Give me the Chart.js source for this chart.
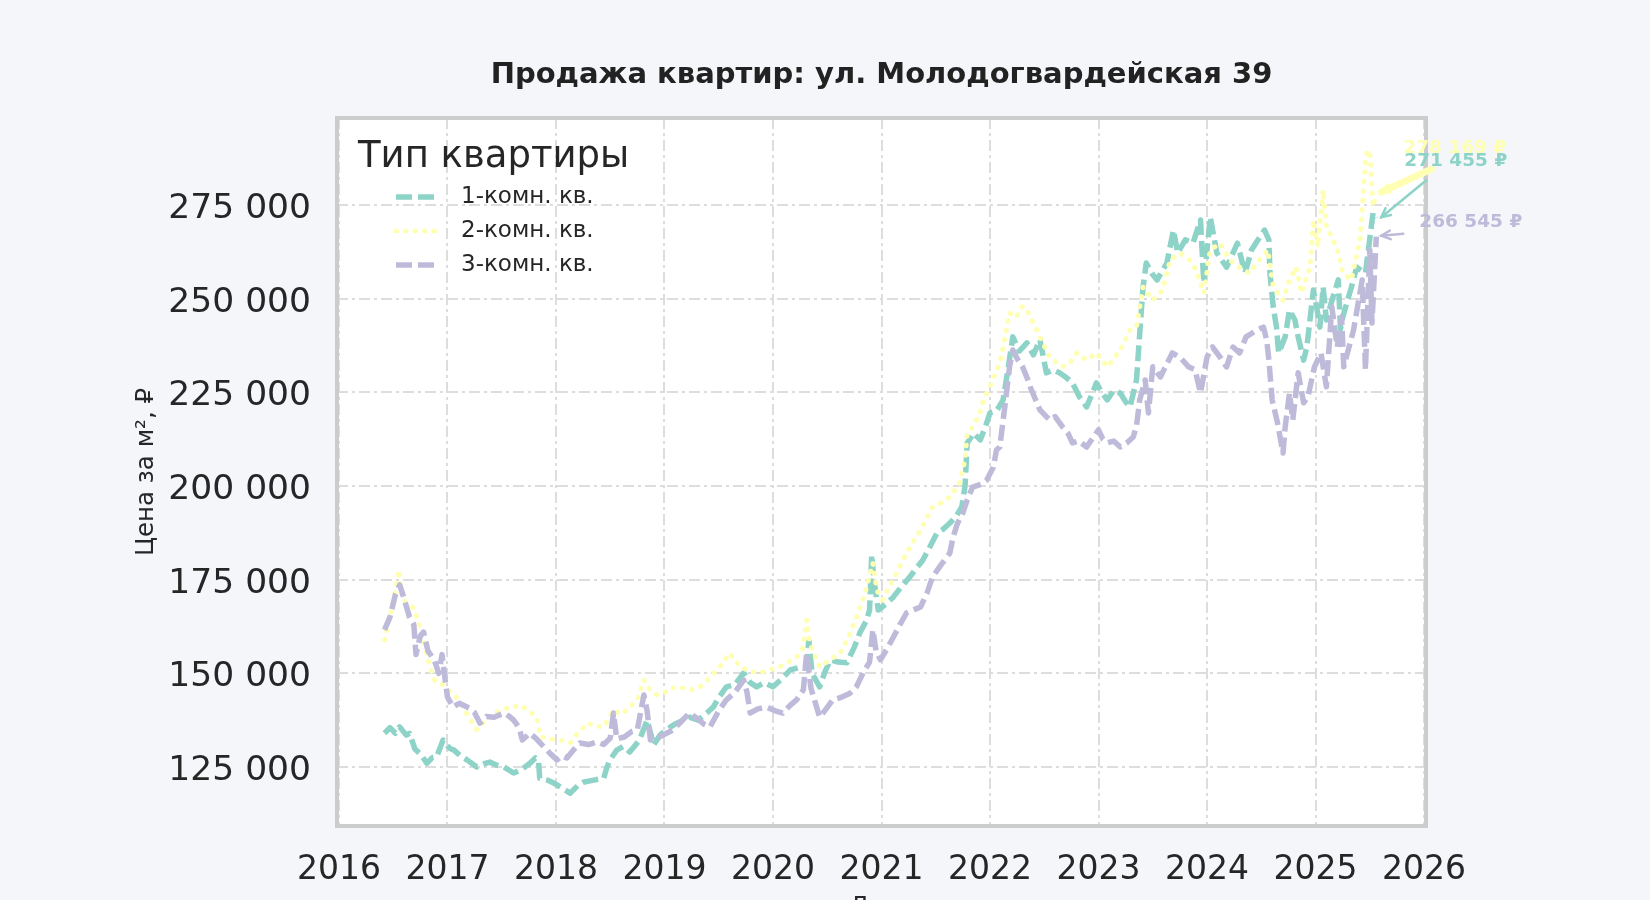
<!DOCTYPE html>
<html lang="ru">
<head>
<meta charset="utf-8">
<title>Продажа квартир: ул. Молодогвардейская 39</title>
<script src="https://cdn.jsdelivr.net/npm/chart.js@4.4.1/dist/chart.umd.min.js"></script>
<style>
  html, body { margin: 0; padding: 0; background: #f5f6fa; overflow: hidden; }
  #wrap { width: 1650px; height: 900px; overflow: hidden; }
</style>
</head>
<body>
<div id="wrap"><canvas id="chart" width="1650" height="930"></canvas></div>
<script>
// data (x = decimal year, y = rubles per m2)
var seriesNames = ['1-комн. кв.', '2-комн. кв.', '3-комн. кв.'];
var xTicks = [2016, 2017, 2018, 2019, 2020, 2021, 2022, 2023, 2024, 2025, 2026];
var yTicks = [125000, 150000, 175000, 200000, 225000, 250000, 275000];

var oneRoomX = [2016.42, 2016.47, 2016.52, 2016.56, 2016.62, 2016.65, 2016.70, 2016.75, 2016.81, 2016.86, 2016.90, 2016.96,
  2017.02, 2017.06, 2017.12, 2017.18, 2017.27, 2017.33, 2017.39, 2017.45, 2017.52, 2017.61, 2017.66, 2017.70, 2017.76, 2017.81, 2017.84, 2017.85, 2017.92, 2017.98,
  2018.05, 2018.13, 2018.20, 2018.26, 2018.35, 2018.44, 2018.47, 2018.50, 2018.56, 2018.62, 2018.68, 2018.77, 2018.84, 2018.90, 2018.96,
  2019.02, 2019.10, 2019.23, 2019.31, 2019.39, 2019.45, 2019.50, 2019.57, 2019.65, 2019.73, 2019.79, 2019.85, 2019.92,
  2020.00, 2020.08, 2020.16, 2020.23, 2020.31, 2020.33, 2020.36, 2020.43, 2020.48, 2020.53, 2020.60, 2020.68, 2020.75, 2020.80, 2020.86, 2020.89, 2020.91, 2020.93, 2020.97,
  2021.04, 2021.11, 2021.18, 2021.26, 2021.32, 2021.38, 2021.45, 2021.51, 2021.57, 2021.63, 2021.69, 2021.74, 2021.77, 2021.79, 2021.85, 2021.91, 2021.96,
  2022.00, 2022.06, 2022.12, 2022.17, 2022.21, 2022.27, 2022.34, 2022.40, 2022.46, 2022.52, 2022.58, 2022.64, 2022.70, 2022.76, 2022.82, 2022.89, 2022.94, 2022.98,
  2023.03, 2023.08, 2023.14, 2023.20, 2023.25, 2023.29, 2023.35, 2023.38, 2023.41, 2023.44, 2023.49, 2023.54, 2023.59, 2023.63, 2023.69, 2023.73, 2023.80, 2023.87, 2023.94, 2023.97,
  2024.03, 2024.09, 2024.18, 2024.28, 2024.35, 2024.41, 2024.47, 2024.53, 2024.57, 2024.58, 2024.61, 2024.64, 2024.66, 2024.72, 2024.76, 2024.81, 2024.84, 2024.89, 2024.92, 2024.98,
  2025.01, 2025.04, 2025.07, 2025.10, 2025.16, 2025.21, 2025.23, 2025.25, 2025.33, 2025.38, 2025.46, 2025.53, 2025.56];
var oneRoomY = [134000, 135500, 134000, 135700, 133500, 134000, 129800, 128500, 126000, 127500, 127700, 132200,
  130000, 129500, 128000, 126900, 125000, 125800, 126300, 125500, 125000, 123400, 124000, 124700, 126000, 127400, 126500, 122000, 121500, 120700,
  119500, 118000, 120000, 121000, 121500, 122000, 125000, 127000, 129500, 130500, 129000, 132200, 137500, 130900, 133500,
  135000, 136500, 138300, 137500, 139400, 141000, 143500, 146400, 147000, 150100, 147500, 146400, 147500,
  146400, 148500, 150900, 151500, 151700, 158900, 150000, 146400, 150500, 153600, 153000, 152800, 157000, 160800, 164000, 166900, 181600, 175000, 166900,
  168500, 170400, 173000, 175700, 178000, 180200, 184000, 187400, 188500, 190100, 192000, 194400, 200000, 211500, 214100, 212300, 216000,
  219500, 220000, 222900, 232000, 239800, 236000, 238200, 235000, 239000, 230200, 231000, 230200, 229000, 227500, 224000, 221100, 224500, 227500,
  225000, 223000, 225500, 224800, 222500, 221100, 228300, 240800, 253100, 259500, 256800, 255000, 257600, 259500, 268300, 262200, 265700, 264800, 271000, 254200,
  271800, 262200, 258400, 264800, 256800, 263000, 265700, 268300, 265700, 256800, 247800, 242400, 235500, 239800, 247000, 244300, 239800, 233600, 237100, 252300,
  247800, 242400, 253100, 244300, 250400, 255000, 242000, 245000, 253000, 258400, 256800, 272900, 271455];

var twoRoomX = [2016.42, 2016.47, 2016.52, 2016.55, 2016.58, 2016.64, 2016.69, 2016.74, 2016.78, 2016.83, 2016.88, 2016.94, 2016.97,
  2017.03, 2017.09, 2017.18, 2017.27, 2017.35, 2017.43, 2017.52, 2017.60, 2017.67, 2017.75, 2017.82, 2017.86, 2017.94,
  2018.01, 2018.07, 2018.13, 2018.20, 2018.29, 2018.36, 2018.44, 2018.53, 2018.60, 2018.68, 2018.75, 2018.81, 2018.87, 2018.93, 2018.99,
  2019.06, 2019.14, 2019.23, 2019.33, 2019.42, 2019.51, 2019.60, 2019.65, 2019.70, 2019.79, 2019.88, 2019.97,
  2020.06, 2020.14, 2020.22, 2020.28, 2020.31, 2020.34, 2020.43, 2020.52, 2020.62, 2020.70, 2020.77, 2020.85, 2020.92, 2020.96,
  2021.01, 2021.07, 2021.14, 2021.23, 2021.30, 2021.36, 2021.42, 2021.47, 2021.55, 2021.63, 2021.72, 2021.77, 2021.79, 2021.84, 2021.90, 2021.94,
  2022.00, 2022.09, 2022.14, 2022.18, 2022.24, 2022.30, 2022.34, 2022.43, 2022.49, 2022.55, 2022.61, 2022.67, 2022.74, 2022.80, 2022.89, 2022.98,
  2023.08, 2023.14, 2023.20, 2023.29, 2023.35, 2023.41, 2023.50, 2023.59, 2023.66, 2023.75, 2023.84, 2023.90, 2023.97,
  2024.03, 2024.12, 2024.21, 2024.30, 2024.39, 2024.48, 2024.56, 2024.61, 2024.70, 2024.76, 2024.82, 2024.87, 2024.95, 2024.98,
  2025.02, 2025.07, 2025.10, 2025.15, 2025.21, 2025.25, 2025.33, 2025.41, 2025.46, 2025.48, 2025.50, 2025.53, 2025.56];
var twoRoomY = [158900, 165000, 172000, 177600, 170000, 168500, 167400, 163000, 158900, 152500, 148200, 147500, 146400,
  145000, 143400, 139000, 134900, 137500, 139400, 140500, 141000, 141500, 140000, 138300, 133000, 132500,
  132200, 132000, 131400, 134000, 136700, 136000, 135700, 140200, 139000, 141000, 143000, 148200, 145500, 144200, 144700,
  146000, 146400, 145500, 146400, 149000, 151700, 155400, 153500, 151700, 150500, 150100, 151000,
  151700, 153000, 154400, 157000, 164200, 158000, 151700, 153500, 155400, 160000, 165000, 171500, 179400, 172000,
  169600, 173000, 176800, 182100, 185500, 188200, 191500, 194400, 195500, 197100, 200800, 207000, 214100, 215700, 219000, 223000,
  226500, 232800, 240000, 246200, 245000, 248000, 247000, 241600, 238000, 234400, 233000, 231800, 233000, 235500, 233600, 235500,
  231800, 234000, 236300, 241600, 242400, 253100, 249600, 252300, 260300, 262200, 260300, 257600, 251500,
  263000, 264800, 260300, 258400, 256800, 260300, 263000, 253100, 249600, 255000, 258400, 251500, 258400, 271000,
  263800, 279000, 269100, 266500, 262200, 256800, 255000, 265700, 287000, 289700, 288900, 274500, 278169];

var threeRoomX = [2016.42, 2016.47, 2016.52, 2016.56, 2016.60, 2016.65, 2016.69, 2016.71, 2016.75, 2016.78, 2016.82, 2016.88, 2016.92, 2016.95, 2016.98,
  2017.00, 2017.05, 2017.11, 2017.20, 2017.25, 2017.30, 2017.36, 2017.43, 2017.52, 2017.57, 2017.61, 2017.66, 2017.69, 2017.76, 2017.82, 2017.89, 2017.95,
  2018.01, 2018.06, 2018.10, 2018.16, 2018.22, 2018.30, 2018.38, 2018.44, 2018.50, 2018.53, 2018.56, 2018.63, 2018.70, 2018.75, 2018.81, 2018.84, 2018.87, 2018.95,
  2019.02, 2019.08, 2019.15, 2019.23, 2019.30, 2019.36, 2019.42, 2019.50, 2019.57, 2019.65, 2019.73, 2019.76, 2019.79, 2019.86, 2019.94,
  2020.02, 2020.09, 2020.16, 2020.22, 2020.28, 2020.31, 2020.35, 2020.43, 2020.49, 2020.55, 2020.62, 2020.71, 2020.77, 2020.83, 2020.89, 2020.92, 2020.95, 2020.99,
  2021.05, 2021.11, 2021.17, 2021.23, 2021.30, 2021.36, 2021.42, 2021.47, 2021.55, 2021.63, 2021.66, 2021.70, 2021.75, 2021.79, 2021.84, 2021.92, 2021.97,
  2022.03, 2022.06, 2022.09, 2022.14, 2022.18, 2022.21, 2022.25, 2022.30, 2022.34, 2022.37, 2022.42, 2022.46, 2022.55, 2022.60, 2022.67, 2022.72, 2022.76, 2022.82, 2022.89, 2022.94,
  2023.00, 2023.04, 2023.08, 2023.14, 2023.20, 2023.26, 2023.32, 2023.35, 2023.38, 2023.43, 2023.46, 2023.50, 2023.57, 2023.68, 2023.75, 2023.83, 2023.89, 2023.94,
  2024.00, 2024.05, 2024.12, 2024.18, 2024.24, 2024.30, 2024.36, 2024.46, 2024.52, 2024.55, 2024.57, 2024.60, 2024.65, 2024.70, 2024.72, 2024.76, 2024.79, 2024.84, 2024.89, 2024.93, 2024.99,
  2025.05, 2025.10, 2025.15, 2025.20, 2025.24, 2025.26, 2025.35, 2025.43, 2025.46, 2025.50, 2025.52, 2025.56];
var threeRoomY = [161600, 165000, 171000, 173600, 170000, 165000, 163000, 155000, 160000, 161000, 156000, 153500, 150000, 155000, 148000,
  143700, 141000, 142000, 140700, 139500, 136700, 138500, 138300, 139400, 138500, 137500, 135500, 132200, 134000, 132500, 130300, 128500,
  126900, 128000, 127400, 129500, 131400, 131000, 131700, 131000, 132700, 139400, 132500, 133000, 134500, 134900, 144200, 140000, 132200, 133000,
  134000, 134900, 137000, 139400, 138000, 136500, 135700, 140000, 142900, 145000, 148200, 145000, 139400, 140500, 141000,
  140000, 139400, 141500, 143000, 145600, 155400, 146000, 138300, 140500, 142900, 143500, 144700, 146500, 150100, 153000, 161600, 156000, 153600,
  156500, 159700, 163000, 166100, 167000, 167700, 171500, 175700, 179000, 182100, 186400, 190000, 192800, 196300, 199700, 200500, 201600,
  205000, 209600, 210400, 222000, 231800, 236300, 234000, 231800, 229000, 226500, 223000, 220300, 217600, 218500, 215700, 214000, 211500, 212000, 210400, 212500,
  215000, 212500, 211500, 212000, 210400, 211500, 213100, 216000, 223000, 228300, 219500, 231800, 229100, 235500, 234400, 231800, 231000, 224800,
  234400, 237100, 234400, 231800, 237100, 235500, 239800, 241600, 242400, 239000, 233600, 223000, 216800, 208800, 215700, 224800, 217600, 230200, 222200, 223800, 231800,
  235500, 226500, 247800, 237100, 245100, 231800, 241600, 255000, 231000, 263000, 243500, 266545];

var seriesX = [oneRoomX, twoRoomX, threeRoomX];
var seriesY = [oneRoomY, twoRoomY, threeRoomY];

// styles
var seriesColors = ['#8dd3c7', '#ffffb3', '#bebada'];
var seriesWidth = [5.5, 5, 5.5];
var seriesDash = [[16, 6], [0.5, 9], [16, 6]];
var seriesCap = ['butt', 'round', 'butt'];
var seriesOrder = [3, 2, 1];
// label offsets from last point: text (tx, ty), arrow tail (ax, ay)
var labelOffsets = [
  {tx: 28, ty: -57, ax: 50, ay: -38, lw: 2.5},
  {tx: 27, ty: -45, ax: 55, ay: -24, lw: 7},
  {tx: 43, ty: -14, ax: 27, ay: -3, lw: 2.5}
];
var textColor = '#262626';
var fontFamily = '"DejaVu Sans", "Noto Sans", sans-serif';

var fmt = function(v) {
  return String(Math.round(v)).replace(/\B(?=(\d{3})+(?!\d))/g, ' ');
};

var plotFrame = {
  id: 'plotFrame',
  beforeDraw: function(chart) {
    var a = chart.chartArea, ctx = chart.ctx;
    ctx.save();
    ctx.fillStyle = '#ffffff';
    ctx.fillRect(a.left, a.top, a.right - a.left, a.bottom - a.top);
    ctx.restore();
  },
  afterDraw: function(chart) {
    var a = chart.chartArea, ctx = chart.ctx;
    ctx.save();
    ctx.strokeStyle = '#cccccc';
    ctx.lineWidth = 4;
    ctx.strokeRect(a.left, a.top, a.right - a.left, a.bottom - a.top);
    ctx.restore();
  }
};

var legendInside = {
  id: 'legendInside',
  afterDraw: function(chart) {
    var a = chart.chartArea, ctx = chart.ctx;
    ctx.save();
    ctx.textBaseline = 'middle';
    ctx.fillStyle = textColor;
    ctx.font = '37px ' + fontFamily;
    ctx.fillText('Тип квартиры', a.left + 21, a.top + 39);
    ctx.font = '23px ' + fontFamily;
    chart.data.datasets.forEach(function(ds, i) {
      var y = a.top + 79 + i * 34;
      ctx.strokeStyle = ds.borderColor;
      ctx.lineWidth = ds.borderWidth;
      ctx.lineCap = ds.borderCapStyle;
      ctx.setLineDash(ds.borderDash);
      ctx.beginPath();
      ctx.moveTo(a.left + 59, y);
      ctx.lineTo(a.left + 98, y);
      ctx.stroke();
      ctx.fillStyle = textColor;
      ctx.fillText(ds.label, a.left + 124, y);
    });
    ctx.restore();
  }
};

var lastLabels = {
  id: 'lastLabels',
  afterDraw: function(chart) {
    var ctx = chart.ctx;
    ctx.save();
    ctx.font = 'bold 18.5px ' + fontFamily;
    ctx.textBaseline = 'middle';
    [0, 2, 1].forEach(function(i) {
      var meta = chart.getDatasetMeta(i);
      var pt = meta.data[meta.data.length - 1];
      var vals = seriesY[i];
      var o = labelOffsets[i];
      var hx = pt.x + 5, hy = pt.y - 1;
      var tx = pt.x + o.ax, ty = pt.y + o.ay;
      var ang = Math.atan2(hy - ty, hx - tx);
      ctx.strokeStyle = seriesColors[i];
      ctx.lineCap = 'round';
      ctx.setLineDash([]);
      ctx.lineWidth = o.lw;
      ctx.beginPath();
      ctx.moveTo(tx, ty);
      ctx.lineTo(hx, hy);
      ctx.stroke();
      ctx.lineWidth = 2.5;
      ctx.beginPath();
      ctx.moveTo(hx - 10 * Math.cos(ang - 0.45), hy - 10 * Math.sin(ang - 0.45));
      ctx.lineTo(hx, hy);
      ctx.lineTo(hx - 10 * Math.cos(ang + 0.45), hy - 10 * Math.sin(ang + 0.45));
      ctx.stroke();
      ctx.fillStyle = seriesColors[i];
      ctx.fillText(fmt(vals[vals.length - 1]) + ' ₽', pt.x + o.tx, pt.y + o.ty);
    });
    ctx.restore();
  }
};

var datasets = seriesNames.map(function(name, i) {
  return {
    label: name,
    data: seriesX[i].map(function(x, j) { return {x: x, y: seriesY[i][j]}; }),
    borderColor: seriesColors[i],
    backgroundColor: seriesColors[i],
    borderWidth: seriesWidth[i],
    borderDash: seriesDash[i],
    borderCapStyle: seriesCap[i],
    borderJoinStyle: 'round',
    pointRadius: 0,
    tension: 0,
    fill: false,
    order: seriesOrder[i]
  };
});

new Chart(document.getElementById('chart'), {
  type: 'line',
  data: { datasets: datasets },
  options: {
    responsive: false,
    animation: false,
    parsing: false,
    layout: { padding: { left: 120, right: 224, top: 0, bottom: 8 } },
    plugins: {
      legend: { display: false },
      tooltip: { enabled: false },
      title: {
        display: true,
        fullSize: false,
        text: 'Продажа квартир: ул. Молодогвардейская 39',
        color: '#222222',
        font: { family: fontFamily, size: 29, weight: 'bold' },
        padding: { top: 58, bottom: 25.2 }
      }
    },
    scales: {
      x: {
        type: 'linear',
        min: 2015.982,
        max: 2026.018,
        afterBuildTicks: function(s) { s.ticks = xTicks.map(function(v) { return {value: v}; }); },
        afterFit: function(s) { s.height = 96; },
        ticks: {
          color: textColor,
          font: { family: fontFamily, size: 33 },
          padding: 25,
          maxRotation: 0,
          autoSkip: false,
          callback: function(v) { return String(v); }
        },
        grid: { color: '#dddddd', lineWidth: 2, drawTicks: false },
        border: { display: false, dash: [11, 4, 3, 4] },
        title: {
          display: true,
          text: 'Дата',
          color: textColor,
          font: { family: fontFamily, size: 24.5 },
          padding: { top: 4, bottom: 0 }
        }
      },
      y: {
        min: 109250,
        max: 298220,
        afterBuildTicks: function(s) { s.ticks = yTicks.map(function(v) { return {value: v}; }); },
        afterFit: function(s) { s.width = 217; },
        ticks: {
          color: textColor,
          font: { family: fontFamily, size: 34.5 },
          padding: 26,
          labelOffset: 4,
          callback: function(v) { return fmt(v); }
        },
        grid: { color: '#dddddd', lineWidth: 2, drawTicks: false },
        border: { display: false, dash: [11, 4, 3, 4] },
        title: {
          display: true,
          text: 'Цена за м², ₽',
          color: textColor,
          font: { family: fontFamily, size: 24.5 },
          padding: { top: 12, bottom: 0 }
        }
      }
    }
  },
  plugins: [plotFrame, legendInside, lastLabels]
});
</script>
</body>
</html>
